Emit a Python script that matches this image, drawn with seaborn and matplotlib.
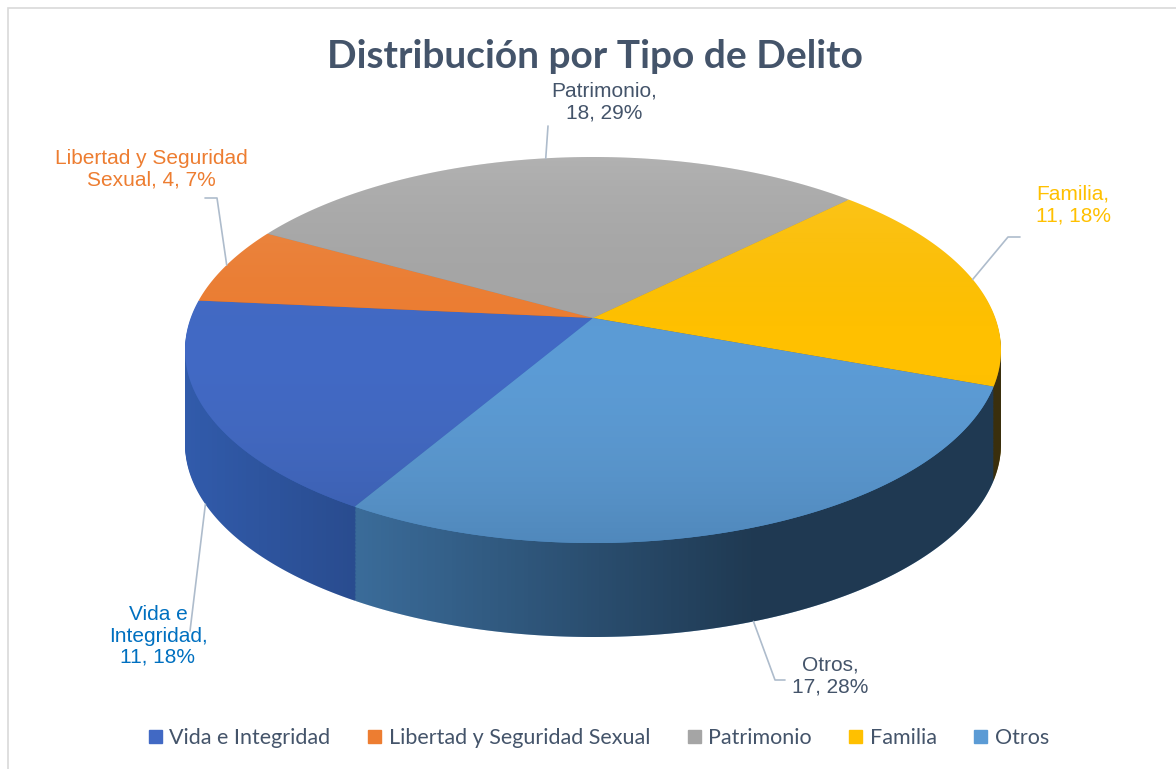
import numpy as np
import matplotlib
matplotlib.use("Agg")
import matplotlib.pyplot as plt
import seaborn as sns
from matplotlib.patches import Rectangle, Circle, Polygon
from matplotlib.lines import Line2D
from matplotlib.path import Path
from matplotlib import transforms as mtransforms

# ---------------- data ----------------
categories = ["Vida e Integridad", "Libertad y Seguridad Sexual", "Patrimonio", "Familia", "Otros"]
counts = [11, 4, 18, 11, 17]
percents = [18, 7, 29, 18, 28]
label_texts = ["Vida e\nIntegridad,\n11, 18%", "Libertad y Seguridad\nSexual, 4, 7%",
               "Patrimonio,\n18, 29%", "Familia,\n11, 18%", "Otros,\n17, 28%"]
title = "Distribución por Tipo de Delito"

# ---------------- style ----------------
top_colors = ["#4169c4", "#ed7d31", "#a5a5a5", "#ffc000", "#5b9bd5"]
side_colors = ["#3460b4", "#c85f1a", "#8a8a8a", "#8a7020", "#4a88c2"]
label_colors = ["#0070c0", "#ed7d31", "#44546a", "#ffc000", "#44546a"]

sns.set_theme(style="white")
plt.rcParams["font.family"] = ["Liberation Sans", "DejaVu Sans"]

W, H = 1176, 769
fig = plt.figure(figsize=(W / 100, H / 100), dpi=100)
ax = fig.add_axes([0, 0, 1, 1])

# pixel geometry of the tilted pie (image coords, y down)
cx, cy, a, b, depth = 593, 350, 408, 193, 94
D = depth / b
E = 0.166          # perspective shift of the pie centre towards the back
START = 239.5


class Persp(mtransforms.Transform):
    """Projective map keeping the unit circle, moving its centre up by E."""
    input_dims = output_dims = 2
    is_separable = False
    has_inverse = False

    def __init__(self, e, yc):
        super().__init__()
        self.e, self.yc = e, yc

    def transform_non_affine(self, xy):
        xy = np.asarray(xy, float).reshape(-1, 2)
        x = xy[:, 0]
        y = xy[:, 1] - self.yc
        den = 1 + self.e * y
        return np.column_stack([x * np.sqrt(1 - self.e ** 2) / den,
                                (y + self.e) / den + self.yc])

    def transform_path_non_affine(self, path):
        pts = []
        for seg, code in path.iter_bezier():
            t = np.linspace(0, 1, 60 if seg.degree > 1 else 2)
            p = seg(t)
            pts.append(p if not pts else p[1:])
        pts = np.vstack(pts + [pts[0][:1]])
        return Path(self.transform_non_affine(pts), closed=True)


def draw_pie(colors, yc, z):
    wedges, _ = ax.pie(counts, colors=colors, startangle=START, counterclock=False,
                       radius=1, center=(0, yc), wedgeprops=dict(linewidth=0, zorder=z))
    for w in wedges:
        w.set_transform(Persp(E, yc) + ax.transData)
    return wedges


# side (extruded) layers, bottom to top
N = 70
for i in range(N):
    draw_pie(side_colors, -D + D * i / N, 1)

# horizontal shading of the side band
th = np.linspace(np.pi, 2 * np.pi, 300)
band = np.vstack([np.c_[np.cos(th), np.sin(th)],
                  np.c_[np.cos(th[::-1]), np.sin(th[::-1]) - D]])
band_patch = Polygon(band, closed=True, transform=ax.transData)
xs = np.linspace(-1, 1, 400)
alpha = np.clip(0.05 + (xs + 1) * 0.55 / 1.45, 0, 0.58)
img = np.zeros((2, 400, 4))
img[..., 3] = alpha[None, :]
im = ax.imshow(img, extent=(-1, 1, -1 - D, 0.2), origin="lower",
               aspect="auto", zorder=2, interpolation="bilinear")
im.set_clip_path(band_patch)

# top face
wedges = draw_pie(top_colors, 0, 3)

# vertical shading of the top face
ys = np.linspace(0, 1, 300)
gimg = np.zeros((300, 2, 4))
tone = np.interp(ys, [0, 0.5, 1], [0.0, 0.5, 1.0])
for k in range(3):
    gimg[..., k] = tone[:, None]
gimg[..., 3] = np.interp(ys, [0, 0.45, 0.55, 1], [0.12, 0.0, 0.0, 0.14])[:, None]
gim = ax.imshow(gimg, extent=(-1, 1, -1, 1), origin="lower", aspect="auto",
                zorder=4, interpolation="bilinear")
gim.set_clip_path(Circle((0, 0), 1, transform=ax.transData))

ax.set_aspect("auto")
ax.set_xlim(-cx / a, (W - cx) / a)
ax.set_ylim((cy - H) / b, cy / b)
ax.axis("off")

persp0 = Persp(E, 0)


def to_px(xd, yd):
    return cx + xd * a, H - (cy - yd * b)


# labels and leader lines
label_pos = [(158, 636), (151, 169), (604, 102), (1073, 205), (830, 676)]
line_start = [[(190, 631)], [(205, 198), (217, 198)], [(548, 126)],
              [(1020, 237), (1008, 237)], [(785, 680), (775, 680)]]
for w, txt, col, (lx, ly), pts in zip(wedges, label_texts, label_colors, label_pos, line_start):
    mid = np.deg2rad((w.theta1 + w.theta2) / 2)
    xd, yd = persp0.transform_non_affine([[np.cos(mid), np.sin(mid)]])[0]
    if np.sin(mid) < 0:
        yd = yd - D
    axp, ayp = to_px(xd, yd)
    px = [p[0] for p in pts] + [axp]
    py = [H - p[1] for p in pts] + [ayp]
    fig.add_artist(Line2D(px, py, transform=None, color="#aebccc", lw=1.2, zorder=6))
    fig.text(lx / W, 1 - ly / H, txt, ha="center", va="center", fontsize=15,
             color=col, linespacing=1.15, zorder=7)

# title
fig.text(595 / W, 1 - 56 / H, title, ha="center", va="center", fontsize=28,
         fontweight="bold", color="#44546a", family=["Lato", "DejaVu Sans"])

# legend
handles = [Rectangle((0, 0), 1, 1, color=c) for c in top_colors]
leg = fig.legend(handles, categories, loc="center", bbox_to_anchor=(599 / W, 1 - 738 / H),
                 ncol=5, frameon=False, handlelength=0.6, handleheight=0.6,
                 handletextpad=0.35, columnspacing=1.75,
                 prop=dict(family=["Lato", "DejaVu Sans"], size=15.5))
for t in leg.get_texts():
    t.set_color("#44546a")

# chart frame
fig.add_artist(Rectangle((8 / W, -0.1), 2, 761 / H + 0.1, transform=fig.transFigure,
                         fill=False, ec="#d9d9d9", lw=1.2))

fig.savefig("out.png", dpi=100)
